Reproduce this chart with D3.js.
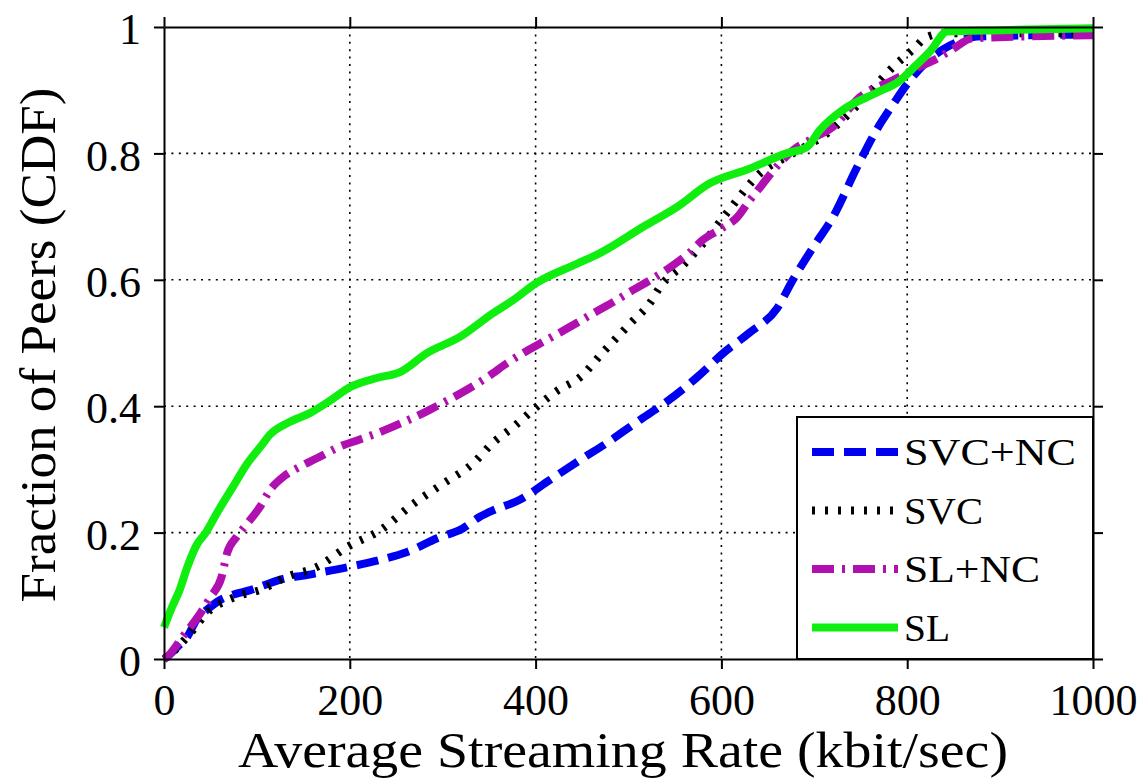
<!DOCTYPE html>
<html>
<head>
<meta charset="utf-8">
<script src="https://cdn.jsdelivr.net/npm/d3@7"></script>
<style>
  html, body { margin: 0; padding: 0; background: #fff; }
  svg { display: block; }
  text { font-family: "Liberation Serif", "Times New Roman", serif; fill: #000; }
</style>
</head>
<body>
<svg id="chart" width="1148" height="780"></svg>
<script>
// CDF of the average streaming rate seen by peers, one curve per scheme.

const xTicks = [0, 200, 400, 600, 800, 1000];
const yTicks = [0, 0.2, 0.4, 0.6, 0.8, 1];
const yTickLabels = ["0", "0.2", "0.4", "0.6", "0.8", "1"];

const seriesNames = ["SVC+NC", "SVC", "SL+NC", "SL"];

// SVC+NC
const svcNcRate = [0, 3, 15, 25, 35, 48, 60, 75, 93, 110, 132, 150, 165, 200, 233, 261, 294, 322, 340, 354, 383, 415, 448, 477, 509, 541, 574, 602, 630, 660, 677, 699, 720, 746, 767, 785, 800, 821, 839, 857, 875, 1000];
const svcNcCdf  = [0, 0.003, 0.02, 0.035, 0.062, 0.08, 0.093, 0.102, 0.109, 0.118, 0.128, 0.132, 0.136, 0.146, 0.157, 0.169, 0.191, 0.207, 0.225, 0.235, 0.252, 0.283, 0.315, 0.342, 0.375, 0.407, 0.446, 0.484, 0.516, 0.555, 0.6, 0.652, 0.699, 0.778, 0.837, 0.878, 0.91, 0.945, 0.965, 0.978, 0.985, 0.988];

// SVC
const svcRate = [0, 3, 25, 50, 68, 85, 103, 132, 165, 197, 233, 268, 300, 333, 354, 376, 401, 423, 448, 473, 502, 523, 534, 560, 577, 606, 642, 677, 714, 749, 785, 806, 821, 840, 1000];
const svcCdf  = [0, 0.003, 0.035, 0.078, 0.093, 0.102, 0.109, 0.13, 0.146, 0.177, 0.204, 0.245, 0.277, 0.31, 0.342, 0.367, 0.399, 0.424, 0.446, 0.486, 0.531, 0.563, 0.589, 0.625, 0.652, 0.706, 0.769, 0.8, 0.832, 0.88, 0.937, 0.964, 0.984, 0.99, 0.99];

// SL+NC
const slNcRate = [0, 3, 20, 39, 50, 62, 68, 78, 90, 103, 114, 130, 146, 165, 189, 210, 229, 255, 279, 300, 326, 350, 369, 390, 412, 440, 462, 485, 505, 525, 545, 565, 580, 600, 617, 630, 642, 660, 677, 700, 720, 749, 785, 810, 832, 849, 870, 1000];
const slNcCdf  = [0, 0.003, 0.035, 0.072, 0.098, 0.13, 0.168, 0.193, 0.215, 0.24, 0.267, 0.29, 0.304, 0.318, 0.336, 0.347, 0.357, 0.373, 0.389, 0.405, 0.426, 0.448, 0.468, 0.487, 0.505, 0.528, 0.547, 0.566, 0.584, 0.601, 0.62, 0.642, 0.663, 0.681, 0.699, 0.725, 0.747, 0.78, 0.805, 0.825, 0.842, 0.889, 0.916, 0.935, 0.95, 0.965, 0.982, 0.987];

// SL
const slRate = [0, 8, 17, 25, 35, 45, 57, 74, 90, 105, 114, 135, 157, 180, 200, 230, 254, 283, 319, 354, 376, 401, 444, 469, 516, 552, 588, 627, 670, 692, 706, 731, 767, 792, 810, 825, 843, 900, 1000];
const slCdf  = [0.05, 0.08, 0.11, 0.145, 0.18, 0.2, 0.231, 0.272, 0.31, 0.338, 0.355, 0.375, 0.389, 0.41, 0.43, 0.445, 0.454, 0.484, 0.51, 0.547, 0.568, 0.595, 0.625, 0.642, 0.684, 0.715, 0.753, 0.774, 0.8, 0.81, 0.837, 0.869, 0.896, 0.915, 0.94, 0.962, 0.993, 0.995, 0.998];

const seriesRates = [svcNcRate, svcRate, slNcRate, slRate];
const seriesCdfs = [svcNcCdf, svcCdf, slNcCdf, slCdf];

const styles = [
  { color: "#0000f0", width: 8, dash: "22,10" },
  { color: "#000000", width: 8, dash: "3,10" },
  { color: "#b010b0", width: 8, dash: "22,8,3,8" },
  { color: "#10ee10", width: 8, dash: null }
];

const svg = d3.select("#chart");
const plotLeft = 164, plotRight = 1093, plotTop = 27, plotBottom = 659;

const x = d3.scaleLinear().domain([0, 1000]).range([plotLeft, plotRight]);
const y = d3.scaleLinear().domain([0, 1]).range([plotBottom, plotTop]);

// dotted grid
const grid = svg.append("g").attr("stroke", "#000").attr("stroke-width", 1.6)
  .attr("stroke-dasharray", "2,5.4");
grid.selectAll("line.v").data(xTicks.slice(1, -1)).join("line").attr("class", "v")
  .attr("x1", d => x(d)).attr("x2", d => x(d)).attr("y1", plotTop).attr("y2", plotBottom);
grid.selectAll("line.h").data(yTicks.slice(1, -1)).join("line").attr("class", "h")
  .attr("y1", d => y(d)).attr("y2", d => y(d)).attr("x1", plotLeft).attr("x2", plotRight);

// curves
const line = d3.line().x(d => x(d[0])).y(d => y(d[1])).curve(d3.curveMonotoneX);
const plot = svg.append("g");
seriesNames.forEach((name, i) => {
  const pts = seriesRates[i].map((r, j) => [r, seriesCdfs[i][j]]);
  plot.append("path")
    .datum(pts)
    .attr("d", line)
    .attr("fill", "none")
    .attr("stroke", styles[i].color)
    .attr("stroke-width", styles[i].width)
    .attr("stroke-dasharray", styles[i].dash)
    .attr("stroke-linejoin", "round");
});

// axes (ticks point outward on all four sides)
function styleAxis(g) {
  g.attr("font-family", null).attr("font-size", null);
  g.select(".domain").attr("stroke", "#000").attr("stroke-width", 2);
  g.selectAll(".tick line").attr("stroke", "#000").attr("stroke-width", 2);
  g.selectAll(".tick text").style("font-family", "'Liberation Serif', serif")
    .style("font-size", "44px").attr("fill", "#000");
}
svg.append("g").attr("transform", `translate(0,${plotBottom})`)
  .call(d3.axisBottom(x).tickValues(xTicks).tickSize(10).tickSizeOuter(0).tickPadding(15).tickFormat(d3.format("d")))
  .call(styleAxis);
svg.append("g").attr("transform", `translate(0,${plotTop})`)
  .call(d3.axisTop(x).tickValues(xTicks).tickSize(10).tickSizeOuter(0).tickFormat(""))
  .call(styleAxis);
const yAx = svg.append("g").attr("transform", `translate(${plotLeft},0)`)
  .call(d3.axisLeft(y).tickValues(yTicks).tickSize(10).tickSizeOuter(0).tickPadding(13)
    .tickFormat((d, i) => yTickLabels[i]))
  .call(styleAxis);
yAx.selectAll(".tick text").attr("dy", "0.38em");
svg.append("g").attr("transform", `translate(${plotRight},0)`)
  .call(d3.axisRight(y).tickValues(yTicks).tickSize(10).tickSizeOuter(0).tickFormat(""))
  .call(styleAxis);

// axis titles
svg.append("text")
  .attr("x", 623).attr("y", 767)
  .attr("text-anchor", "middle")
  .style("font-size", "50px")
  .attr("textLength", 770).attr("lengthAdjust", "spacingAndGlyphs")
  .text("Average Streaming Rate (kbit/sec)");
svg.append("text")
  .attr("transform", "translate(55,345) rotate(-90)")
  .attr("text-anchor", "middle")
  .style("font-size", "50px")
  .attr("textLength", 515).attr("lengthAdjust", "spacingAndGlyphs")
  .text("Fraction of Peers (CDF)");

// legend
const legendWidths = [172, 79, 136, 46];
const lg = svg.append("g");
lg.append("rect")
  .attr("x", 797).attr("y", 417).attr("width", plotRight - 797).attr("height", plotBottom - 417)
  .attr("fill", "#fff").attr("stroke", "#000").attr("stroke-width", 2);
seriesNames.forEach((name, i) => {
  const cy = 452 + i * 58.5;
  lg.append("line")
    .attr("x1", 812).attr("x2", 898).attr("y1", cy).attr("y2", cy)
    .attr("stroke", styles[i].color)
    .attr("stroke-width", styles[i].width)
    .attr("stroke-dasharray", styles[i].dash);
  lg.append("text")
    .attr("x", 904).attr("y", cy + 13)
    .style("font-size", "38px")
    .attr("textLength", legendWidths[i]).attr("lengthAdjust", "spacingAndGlyphs")
    .text(name);
});
</script>
</body>
</html>
